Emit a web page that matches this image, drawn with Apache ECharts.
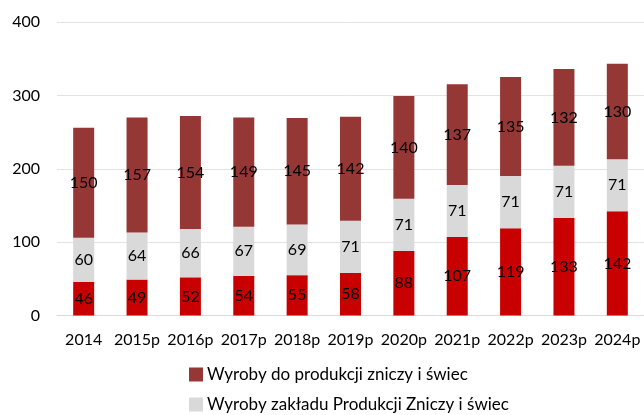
<!DOCTYPE html>
<html>
<head>
<meta charset="utf-8">
<script src="https://cdn.jsdelivr.net/npm/echarts@6/dist/echarts.min.js"></script>
<style>
  html, body { margin: 0; padding: 0; background: #fff; }
  #chart { width: 644px; height: 415px; }
</style>
</head>
<body>
<div id="chart"></div>
<script>
const years = ['2014', '2015p', '2016p', '2017p', '2018p', '2019p', '2020p', '2021p', '2022p', '2023p', '2024p'];
const redValues = [46, 49, 52, 54, 55, 58, 88, 107, 119, 133, 142];
const grayValues = [60, 64, 66, 67, 69, 71, 71, 71, 71, 71, 71];
const topValues = [150, 157, 154, 149, 145, 142, 140, 137, 135, 132, 130];
const yTicks = [0, 100, 200, 300, 400];

const nameTop = 'Wyroby do produkcji zniczy i świec';
const nameGray = 'Wyroby zakładu Produkcji Zniczy i świec';
const nameRed = 'Znicze i świece';

const font = 'Lato, "Liberation Sans", sans-serif';
const chart = echarts.init(document.getElementById('chart'));

function barSeries(name, data, color) {
    return {
        name: name,
        type: 'bar',
        stack: 'total',
        data: data,
        barWidth: 21,
        itemStyle: { color: color },
        label: {
            show: true,
            position: 'inside',
            color: '#000',
            fontSize: 16,
            fontFamily: font
        }
    };
}

function legendItem(name, top) {
    return {
        data: [name],
        left: 189,
        top: top,
        padding: 0,
        itemWidth: 14,
        itemHeight: 14,
        itemGap: 6,
        icon: 'rect',
        textStyle: { fontSize: 17, color: '#000', fontFamily: font, padding: [0, 0, 0, -1] }
    };
}

chart.setOption({
    animation: false,
    grid: { left: 57, right: -1, top: 22, bottom: 99.5 },
    legend: [legendItem(nameTop, 366), legendItem(nameGray, 396)],
    xAxis: {
        type: 'category',
        data: years,
        axisTick: { show: false },
        axisLine: { lineStyle: { color: '#D9D9D9' } },
        axisLabel: { color: '#000', fontSize: 16, fontFamily: font, margin: 16, interval: 0 }
    },
    yAxis: {
        type: 'value',
        min: yTicks[0],
        max: yTicks[yTicks.length - 1],
        interval: 100,
        axisLine: { show: false },
        axisTick: { show: false },
        splitLine: { lineStyle: { color: '#E3E3E3' } },
        axisLabel: { color: '#000', fontSize: 16, fontFamily: font, margin: 17 }
    },
    series: [
        barSeries(nameRed, redValues, '#C80000'),
        barSeries(nameGray, grayValues, '#D9D9D9'),
        barSeries(nameTop, topValues, '#953735')
    ]
});
</script>
</body>
</html>
